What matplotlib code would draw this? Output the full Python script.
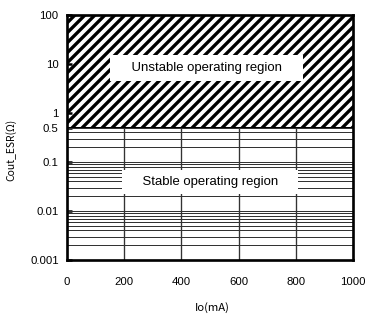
import matplotlib
matplotlib.use('Agg')
import matplotlib.pyplot as plt

plt.rcParams['font.family'] = ['Liberation Sans', 'DejaVu Sans']
plt.rcParams['hatch.linewidth'] = 2.0

# values
x_ticks = [0, 200, 400, 600, 800, 1000]
y_ticks = [0.001, 0.01, 0.1, 0.5, 1, 10, 100]
y_tick_labels = ['0.001', '0.01', '0.1', '0.5', '1', '10', '100']
esr_min, esr_limit, esr_max = 0.001, 0.5, 100
io_min, io_max = 0, 1000
grid_y = [0.002, 0.003, 0.004, 0.005, 0.006, 0.007, 0.008, 0.009, 0.01,
          0.02, 0.03, 0.04, 0.05, 0.06, 0.07, 0.08, 0.09, 0.1,
          0.2, 0.3, 0.4, 0.5]
grid_x = [200, 400, 600, 800]

fig = plt.figure(figsize=(365 / 120, 320 / 120), dpi=120)
ax = fig.add_axes([67 / 365, 1 - 260 / 320, (353 - 67) / 365, (260 - 15) / 320])
ax.set_yscale('log')
ax.set_xlim(io_min, io_max)
ax.set_ylim(esr_min, esr_max)

# unstable (hatched) region
ax.fill_between([io_min, io_max], esr_limit, esr_max, facecolor='white',
                edgecolor='black', hatch='////', linewidth=0, zorder=1)
ax.axhline(esr_limit, color='black', lw=1.2, zorder=2)

# grid in the stable region only
ax.hlines(grid_y, io_min, io_max, color='#333333', lw=0.6, zorder=2)
ax.vlines(grid_x, esr_min, esr_limit, color='#333333', lw=0.8, zorder=2)

ax.set_xticks(x_ticks)
ax.set_xticklabels([str(v) for v in x_ticks])
ax.set_yticks(y_ticks)
ax.set_yticklabels(y_tick_labels)
ax.minorticks_off()
ax.tick_params(axis='x', length=0, pad=10, labelsize=6.8)
ax.tick_params(axis='y', direction='in', length=3, width=1.5, pad=5, labelsize=6.8)
for s in ax.spines.values():
    s.set_linewidth(1.6)
    s.set_zorder(5)

ax.text(488, 8.3, '    Unstable operating region    ', ha='center', va='center',
        fontsize=7.9, bbox=dict(facecolor='white', edgecolor='none', boxstyle='square,pad=0.5'), zorder=4)
ax.text(500, 0.039, '    Stable operating region    ', ha='center', va='center',
        fontsize=7.9, bbox=dict(facecolor='white', edgecolor='none', boxstyle='square,pad=0.45'), zorder=4)

fig.text(212 / 365, 1 - 308 / 320, 'Io(mA)', ha='center', va='center',
         fontsize=6.8, family=['Noto Sans CJK JP', 'DejaVu Sans'])
fig.text(11 / 365, 1 - 150 / 320, 'Cout_ESR(Ω)', ha='center', va='center',
         rotation=90, fontsize=6.2, family=['Noto Sans CJK JP', 'DejaVu Sans'])

fig.savefig('out.png', dpi=120)
